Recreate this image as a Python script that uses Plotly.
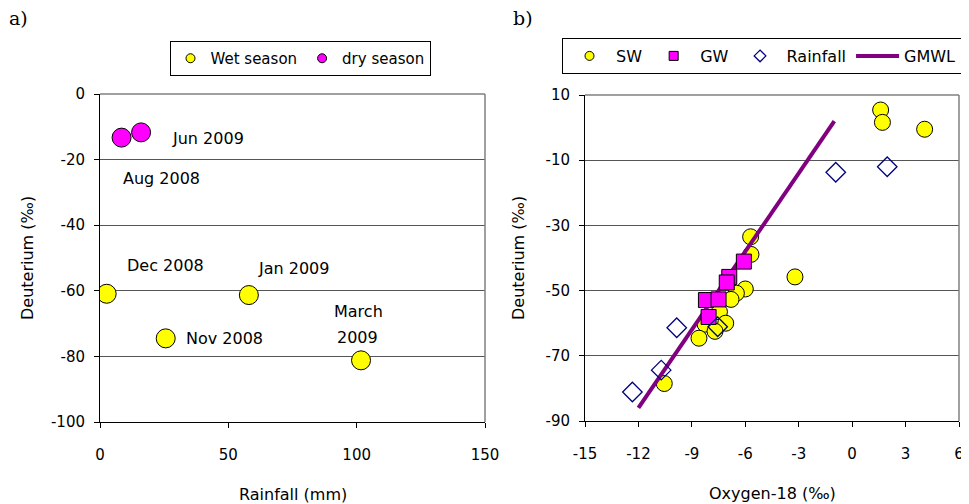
import plotly.graph_objects as go

# ---------- Panel a data ----------
wet_rain = [2.6, 25.6, 58.0, 101.7]
wet_deut = [-60.9, -74.5, -61.3, -81.2]
dry_rain = [8.4, 16.0]
dry_deut = [-13.3, -11.7]
a_xticks = [0, 50, 100, 150]
a_xtext = ["0", "50", "100", "150"]
a_yticks = [0, -20, -40, -60, -80, -100]
a_ytext = ["0", "-20", "-40", "-60", "-80", "-100"]

# ---------- Panel b data ----------
sw_o18 = [1.6, 1.7, 4.07, -5.70, -5.68, -3.21, -6.0, -6.5, -6.8, -7.45, -7.1, -8.26, -7.7, -8.6, -10.55]
sw_deut = [5.4, 1.6, -0.5, -33.5, -38.9, -45.8, -49.5, -50.8, -52.7, -56.5, -60.0, -60.3, -62.5, -64.6, -78.5]
gw_o18 = [-6.08, -6.9, -7.04, -8.21, -7.5, -8.06]
gw_deut = [-41.1, -45.8, -47.5, -52.9, -52.7, -58.1]
rain_o18 = [-0.92, 1.97, -9.85, -7.55, -10.72, -12.34]
rain_deut = [-13.7, -12.0, -61.4, -61.1, -74.4, -81.1]
gmwl_o18 = [-12.0, -9.0, -6.0, -3.0, -1.0]
gmwl_deut = [-86.0, -62.0, -38.0, -14.0, 2.0]
b_xticks = [-15, -12, -9, -6, -3, 0, 3, 6]
b_xtext = ["-15", "-12", "-9", "-6", "-3", "0", "3", "6"]
b_yticks = [10, -10, -30, -50, -70, -90]
b_ytext = ["10", "-10", "-30", "-50", "-70", "-90"]

FONT = "DejaVu Sans"
BLACK = "#000000"

fig = go.Figure()

# Panel a real markers
fig.add_trace(go.Scatter(x=wet_rain, y=wet_deut, mode="markers", xaxis="x", yaxis="y",
                         marker=dict(symbol="circle", size=19, color="#FFFF00", line=dict(color=BLACK, width=1)),
                         showlegend=False, hoverinfo="skip"))
fig.add_trace(go.Scatter(x=dry_rain, y=dry_deut, mode="markers", xaxis="x", yaxis="y",
                         marker=dict(symbol="circle", size=19, color="#FF00FF", line=dict(color=BLACK, width=1)),
                         showlegend=False, hoverinfo="skip"))
# Panel a legend entries
fig.add_trace(go.Scatter(x=[None], y=[None], mode="markers", xaxis="x", yaxis="y", name="Wet season",
                         marker=dict(symbol="circle", size=9, color="#FFFF00", line=dict(color=BLACK, width=1)),
                         legend="legend"))
fig.add_trace(go.Scatter(x=[None], y=[None], mode="markers", xaxis="x", yaxis="y", name="dry season",
                         marker=dict(symbol="circle", size=9, color="#FF00FF", line=dict(color=BLACK, width=1)),
                         legend="legend"))

# Panel b real markers
fig.add_trace(go.Scatter(x=sw_o18, y=sw_deut, mode="markers", xaxis="x2", yaxis="y2",
                         marker=dict(symbol="circle", size=16, color="#FFFF00", line=dict(color=BLACK, width=1)),
                         showlegend=False, hoverinfo="skip"))
fig.add_trace(go.Scatter(x=gmwl_o18, y=gmwl_deut, mode="lines", xaxis="x2", yaxis="y2", name="GMWL",
                         line=dict(color="#800080", width=4), showlegend=False, hoverinfo="skip"))
fig.add_trace(go.Scatter(x=gw_o18, y=gw_deut, mode="markers", xaxis="x2", yaxis="y2",
                         marker=dict(symbol="square", size=15, color="#FF00FF", line=dict(color=BLACK, width=1)),
                         showlegend=False, hoverinfo="skip"))
fig.add_trace(go.Scatter(x=rain_o18, y=rain_deut, mode="markers", xaxis="x2", yaxis="y2",
                         marker=dict(symbol="diamond-open", size=15, color="#000080", line=dict(color="#000080", width=1.3)),
                         showlegend=False, hoverinfo="skip"))
# Panel b legend entries
fig.add_trace(go.Scatter(x=[None], y=[None], mode="markers", xaxis="x2", yaxis="y2", name="SW",
                         marker=dict(symbol="circle", size=9, color="#FFFF00", line=dict(color=BLACK, width=1)),
                         legend="legend2"))
fig.add_trace(go.Scatter(x=[None], y=[None], mode="markers", xaxis="x2", yaxis="y2", name="GW",
                         marker=dict(symbol="square", size=9, color="#FF00FF", line=dict(color=BLACK, width=1)),
                         legend="legend2"))
fig.add_trace(go.Scatter(x=[None], y=[None], mode="markers", xaxis="x2", yaxis="y2", name="Rainfall",
                         marker=dict(symbol="diamond-open", size=9, color="#000080", line=dict(color="#000080", width=1.3)),
                         legend="legend2"))
fig.add_trace(go.Scatter(x=[None], y=[None], mode="lines", xaxis="x2", yaxis="y2", name="GMWL",
                         line=dict(color="#800080", width=4), legend="legend2"))

# The page body has an 8px margin; the figure is sized to fill the rest of the window.
OFF = 8
W, H = 969 - OFF, 504 - OFF
def px(v): return (v - OFF) / W
def py(v): return 1 - (v - OFF) / H

axis_common = dict(showline=True, linecolor=BLACK, linewidth=1, ticks="outside", ticklen=5,
                   tickcolor=BLACK, tickfont=dict(family=FONT, size=15, color=BLACK), zeroline=False,
                   fixedrange=True, tickmode="array")

fig.update_layout(
    width=W, height=H,
    margin=dict(l=0, r=0, t=0, b=0, autoexpand=False),
    paper_bgcolor="white", plot_bgcolor="white",
    font=dict(family=FONT, size=15, color=BLACK),
    xaxis=dict(domain=[px(100), px(485)], range=[0, 150], tickvals=a_xticks, ticktext=a_xtext, showgrid=False,
               anchor="y", ticklabelstandoff=14, **axis_common),
    yaxis=dict(domain=[py(422), py(94)], range=[-100, 0], tickvals=a_yticks, ticktext=a_ytext, showgrid=True,
               gridcolor="#555555", gridwidth=1, anchor="x", ticklabelstandoff=6, **axis_common),
    xaxis2=dict(domain=[px(585), px(959)], range=[-15, 6], tickvals=b_xticks, ticktext=b_xtext, showgrid=False,
                anchor="y2", ticklabelstandoff=14, **axis_common),
    yaxis2=dict(domain=[py(421), py(95)], range=[-90, 10], tickvals=b_yticks, ticktext=b_ytext, showgrid=True,
                gridcolor="#555555", gridwidth=1, anchor="x2", ticklabelstandoff=6, **axis_common),
    legend=dict(orientation="h", x=px(300), y=py(41), xanchor="center", yanchor="top",
                bordercolor=BLACK, borderwidth=1, bgcolor="white",
                font=dict(family=FONT, size=15, color=BLACK), itemwidth=30),
    legend2=dict(orientation="h", x=px(562), y=py(38), xanchor="left", yanchor="top",
                 bordercolor=BLACK, borderwidth=1, bgcolor="white",
                 font=dict(family=FONT, size=16, color=BLACK), itemwidth=43),
    showlegend=True,
)

# Plot-area frame (top and right edges, grey)
for xr, yr in (("x", "y"), ("x2", "y2")):
    fig.add_shape(type="line", xref=f"{xr} domain", yref=f"{yr} domain", x0=0, x1=1, y0=1, y1=1,
                  line=dict(color="#808080", width=1.5), layer="above")
    fig.add_shape(type="line", xref=f"{xr} domain", yref=f"{yr} domain", x0=1, x1=1, y0=0, y1=1,
                  line=dict(color="#808080", width=1.5), layer="above")

# Point labels in panel a
point_labels = [
    ("Jun 2009", 41.9, -13.5), ("Aug 2008", 24.0, -25.9), ("Dec 2008", 25.7, -52.3),
    ("Jan 2009", 75.3, -53.1), ("Nov 2008", 48.4, -74.5), ("March", 100.9, -66.2), ("2009", 100.5, -74.3),
]
for txt, lx, ly in point_labels:
    fig.add_annotation(x=lx, y=ly, xref="x", yref="y", text=txt, showarrow=False,
                       font=dict(family=FONT, size=16, color=BLACK), xanchor="center", yanchor="middle")

# Axis titles
titles = [
    ("Rainfall (mm)", px(292.5), py(494), 0),
    ("Oxygen-18 (‰)", px(772), py(493), 0),
    ("Deuterium (‰)", px(27), py(258), -90),
    ("Deuterium (‰)", px(518), py(258), -90),
]
for txt, tx, ty, ang in titles:
    fig.add_annotation(x=tx, y=ty, xref="paper", yref="paper", text=txt, showarrow=False, textangle=ang,
                       font=dict(family=FONT, size=16, color=BLACK), xanchor="center", yanchor="middle")

# Panel letters
for txt, tx, ty in (("a)", px(18), py(18)), ("b)", px(523), py(18))):
    fig.add_annotation(x=tx, y=ty, xref="paper", yref="paper", text=txt, showarrow=False,
                       font=dict(family="DejaVu Serif", size=19, color=BLACK), xanchor="center", yanchor="middle")

fig.write_html("out.html")
